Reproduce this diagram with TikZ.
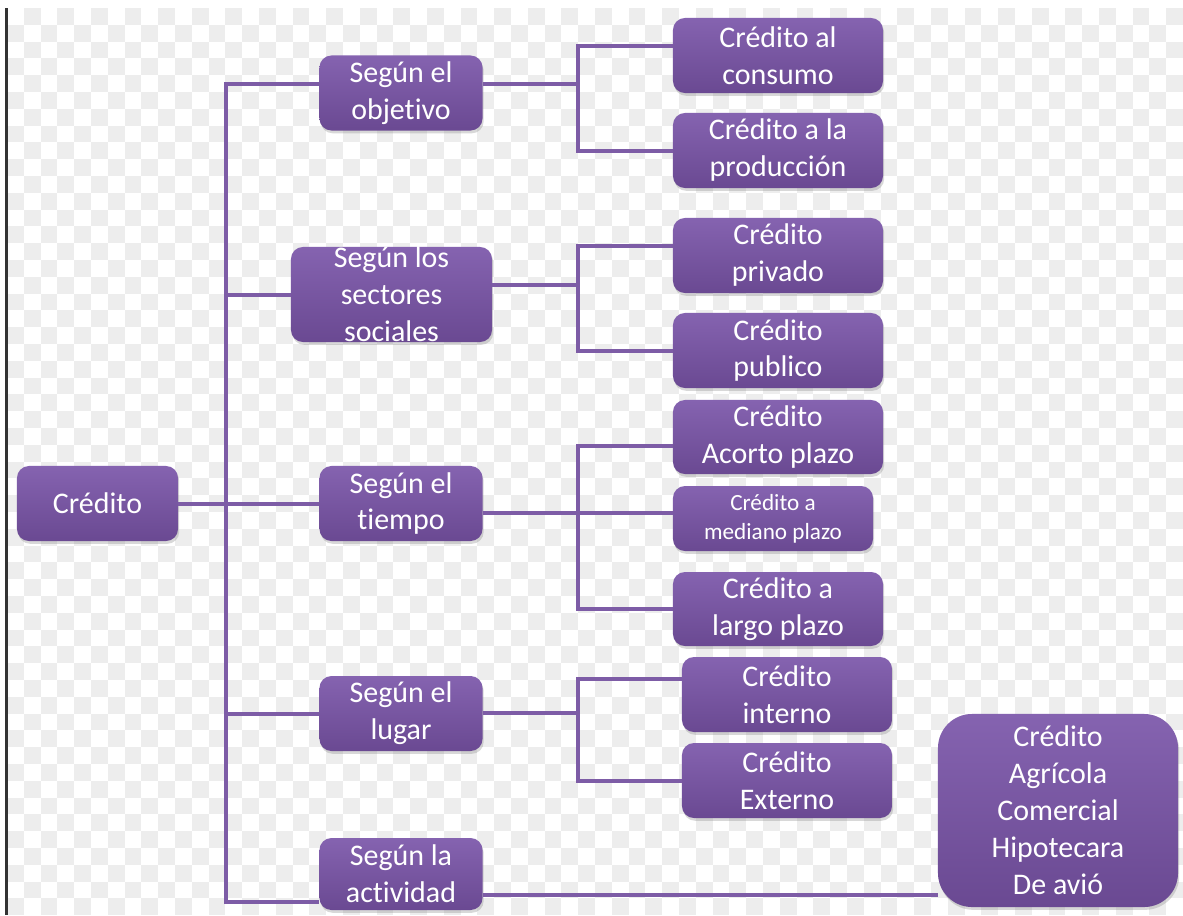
\documentclass[tikz,border=0pt]{standalone}
\usepackage{fontspec}
\setmainfont{Carlito}[Ligatures=NoCommon]
\usetikzlibrary{shadows}

\definecolor{boxtop}{HTML}{8563B0}
\definecolor{boxbot}{HTML}{6A4992}
\definecolor{linkcol}{HTML}{7D5CA6}
\definecolor{checkcol}{HTML}{EDEDED}

\tikzset{
    box/.style={rounded corners=0.3cm, top color=boxtop, bottom color=boxbot,
        draw=none, text=white, align=center, inner sep=0pt,
        minimum width=5.25cm, minimum height=1.875cm,
        font=\fontsize{21.3}{26.3}\selectfont,
        drop shadow={shadow xshift=0.03cm, shadow yshift=-0.07cm, opacity=0.3}},
    smallbox/.style={box, minimum width=4.075cm},
    link/.style={draw=linkcol, line width=0.1cm},
    checker/.style={fill=checkcol}
}

\begin{document}
\begin{tikzpicture}[x=0.025cm, y=-0.025cm]
    \useasboundingbox (0,0) rectangle (1183,915);
    \fill[white] (0,0) rectangle (1183,915);

    % background pattern
    \foreach \i in {0,...,69} {
        \foreach \j in {0,...,53} {
            \pgfmathtruncatemacro{\odd}{mod(\i+\j,2)}
            \ifnum\odd=1
                \fill[checker] (7+\i*16.8, 8+\j*16.8) rectangle ++(16.8,16.8);
            \fi
        }
    }
    \draw[black!80, line width=0.05cm] (6.5,8) -- (6.5,915);

    % root and first level
    \node[box, minimum width=4.025cm] (cred) at (97.5,503.5) {Crédito};
    \node[smallbox] (obj) at (401,93) {Según el\\objetivo};
    \node[box, minimum width=5.025cm, minimum height=2.375cm,
          label={[text=white, align=center, inner sep=0pt,
                  font=\fontsize{21.3}{26.3}\selectfont]center:Según los\\sectores\\sociales}]
          (sect) at (391.5,294.5) {};
    \node[smallbox] (tiem) at (401,503.5) {Según el\\tiempo};
    \node[smallbox] (lug) at (401,713.5) {Según el\\lugar};
    \node[smallbox, minimum height=1.8cm] (act) at (401,874) {Según la\\actividad};

    % second level
    \node[box] (cons) at (778,55.5) {Crédito al\\consumo};
    \node[box] (prod) at (778,150.5) {Crédito a la\\producción};
    \node[box] (priv) at (778,255.5) {Crédito\\privado};
    \node[box] (pub) at (778,350.5) {Crédito\\publico};
    \node[box, minimum height=1.85cm] (cort) at (778,437) {Crédito\\Acorto plazo};
    \node[box, minimum width=5cm, minimum height=1.625cm,
          font=\fontsize{16.5}{20.6}\selectfont] (med) at (773,518.5) {Crédito a\\mediano plazo};
    \node[box, minimum height=1.85cm] (larg) at (778,609) {Crédito a\\largo plazo};
    \node[box] (int) at (787,694.5) {Crédito\\interno};
    \node[box] (ext) at (787,780.5) {Crédito\\Externo};
    \node[box, rounded corners=0.85cm, minimum width=6cm, minimum height=4.825cm]
          (tipos) at (1058,810.5) {Crédito\\Agrícola\\Comercial\\Hipotecara\\De avió};

    % junctions
    \coordinate (ttop) at (226,84);
    \coordinate (tbot) at (226,902);
    \coordinate (jobj) at (578,84);
    \coordinate (jsect) at (578,285);
    \coordinate (jtiem) at (578,513);
    \coordinate (jlug) at (578,713);
    \coordinate (jact) at (700,895);

    % trunk
    \draw[link] (cred.east) -- (tiem.west);
    \draw[link] (obj.west |- ttop) -- (ttop) -- (tbot) -- (act.west |- tbot);
    \draw[link] (sect.west) -- (sect.west -| ttop);
    \draw[link] (lug.west) -- (lug.west -| ttop);

    % branches
    \draw[link] (obj.east |- jobj) -- (jobj);
    \draw[link] ([yshift=0.25cm]cons.west) -| (jobj) |- (prod.west);
    \draw[link] (sect.east |- jsect) -- (jsect);
    \draw[link] ([yshift=0.25cm]priv.west) -| (jsect) |- (pub.west);
    \draw[link] (tiem.east |- jtiem) -- (jtiem);
    \draw[link] ([yshift=-0.225cm]cort.west) -| (jtiem) |- (larg.west);
    \draw[link] (jtiem) -- (med.west |- jtiem);
    \draw[link] (lug.east |- jlug) -- (jlug);
    \draw[link] ([yshift=0.4cm]int.west) -| (jlug) |- (ext.west);
    \draw[link] (act.east |- jact) -- (tipos.west |- jact);
\end{tikzpicture}
\end{document}
